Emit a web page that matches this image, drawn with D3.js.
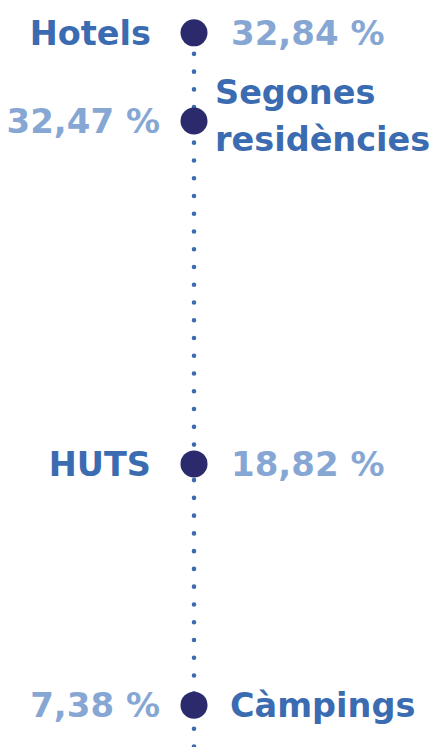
<!DOCTYPE html>
<html>
<head>
<meta charset="utf-8">
<script src="https://cdn.jsdelivr.net/npm/d3@7"></script>
<style>
  html, body { margin: 0; padding: 0; background: #fff; }
  svg { display: block; }
</style>
</head>
<body>
<div id="chart"></div>
<script>
  // Data
  const categories = ["Hotels", "Segones residències", "HUTS", "Càmpings"];
  const labelLines = [["Hotels"], ["Segones", "residències"], ["HUTS"], ["Càmpings"]];
  const shares = [32.84, 32.47, 18.82, 7.38];
  // side on which the category name sits
  const labelSide = ["left", "right", "left", "right"];

  const width = 435, height = 747;
  const axisX = 194;

  // the infographic spaces the points unevenly: a piecewise scale on value
  const sorted = shares.slice().sort((a, b) => b - a);
  const stops = [0.044, 0.162, 0.621, 0.944].map(f => f * height);
  const y = d3.scaleLinear().domain(sorted).range(stops);

  const fmt = v => d3.format(".2f")(v).replace(".", ",") + " %";

  const svg = d3.select("#chart").append("svg")
    .attr("width", width)
    .attr("height", height);

  const step = 17.76;
  svg.append("line")
    .attr("x1", axisX).attr("x2", axisX)
    .attr("y1", y(shares[0]) + 21 - step)
    .attr("y2", height + 10)
    .attr("stroke", "#3b6bb0")
    .attr("stroke-width", 4.6)
    .attr("stroke-linecap", "round")
    .attr("stroke-dasharray", `0 ${step}`);

  const rows = svg.append("g").selectAll("g")
    .data(categories.map((c, i) => ({ name: c, lines: labelLines[i], v: shares[i], side: labelSide[i] })))
    .join("g")
    .attr("transform", d => `translate(${axisX},${y(d.v)})`);

  rows.append("circle")
    .attr("r", 13.5)
    .attr("fill", "#2b2a6c");

  const font = "'DejaVu Sans', sans-serif";
  const nameGap = 43, valueGap = 34;

  // category names
  rows.each(function (d) {
    const g = d3.select(this);
    const n = d.lines.length;
    const t = g.append("text")
      .attr("font-family", font)
      .attr("font-weight", 700)
      .attr("font-size", 33.5)
      .attr("fill", "#3b6bb0")
      .attr("text-anchor", d.side === "left" ? "end" : "start");
    d.lines.forEach((line, k) => {
      t.append("tspan")
        .attr("x", d.side === "left" ? -nameGap : (n > 1 ? 21 : 36))
        .attr("y", n > 1 ? -17 + k * 47 : 12)
        .text(line);
    });
  });

  // values
  rows.append("text")
    .attr("font-family", font)
    .attr("font-weight", 700)
    .attr("font-size", 34)
    .attr("fill", "#86a7d4")
    .attr("text-anchor", d => d.side === "left" ? "start" : "end")
    .attr("x", d => d.side === "left" ? valueGap + 3 : -valueGap)
    .attr("y", 12)
    .text(d => fmt(d.v));
</script>
</body>
</html>
